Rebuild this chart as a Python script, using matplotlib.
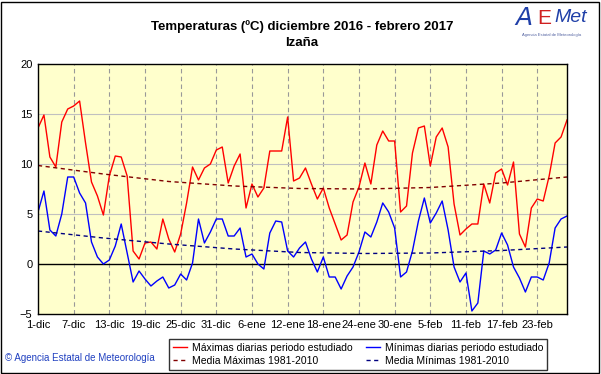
import numpy as np
import matplotlib
matplotlib.use('Agg')
import matplotlib.pyplot as plt
from matplotlib.patches import Rectangle

plt.rcParams['font.family'] = ['Liberation Sans', 'DejaVu Sans']
plt.rcParams['hatch.color'] = 'white'
plt.rcParams['hatch.linewidth'] = 0.6

# daily values, 1 dic 2016 .. 28 feb 2017 (90 days)
tmax = [13.6, 14.9, 10.7, 9.7, 14.2, 15.5, 15.8, 16.3, 12.1, 8.2,
        6.8, 4.9, 8.8, 10.8, 10.7, 8.8, 1.3, 0.5, 2.1, 2.2,
        1.5, 4.5, 2.5, 1.2, 3.0, 6.1, 9.7, 8.4, 9.6, 10.0,
        11.4, 11.7, 8.1, 9.8, 11.0, 5.6, 8.0, 6.7, 7.6, 11.3,
        11.3, 11.3, 14.7, 8.3, 8.6, 9.6, 8.0, 6.5, 7.6, 5.6,
        4.0, 2.4, 2.9, 6.2, 7.7, 10.1, 8.0, 11.9, 13.3, 12.3,
        12.3, 5.2, 5.8, 11.1, 13.6, 13.8, 9.8, 12.7, 13.6, 11.7,
        6.0, 2.9, 3.5, 4.0, 4.0, 8.0, 6.1, 9.1, 9.5, 7.9,
        10.2, 3.0, 1.7, 5.6, 6.5, 6.3, 8.8, 12.1, 12.7, 14.4]

tmin = [5.2, 7.3, 3.4, 2.8, 5.0, 8.7, 8.7, 7.1, 6.1, 2.2,
        0.7, 0.0, 0.4, 1.8, 4.0, 1.1, -1.8, -0.7, -1.5, -2.2,
        -1.7, -1.3, -2.4, -2.1, -1.0, -1.6, 0.1, 4.5, 2.1, 3.2,
        4.5, 4.5, 2.8, 2.8, 3.6, 0.7, 1.0, 0.0, -0.5, 3.1,
        4.3, 4.2, 1.3, 0.7, 1.6, 2.2, 0.5, -0.8, 0.7, -1.3,
        -1.3, -2.5, -1.2, -0.3, 1.2, 3.2, 2.7, 4.2, 6.1, 5.2,
        3.6, -1.3, -0.8, 1.3, 4.3, 6.6, 4.1, 5.1, 6.3, 3.4,
        -0.3, -1.8, -0.9, -4.7, -3.9, 1.3, 1.0, 1.4, 3.1, 1.9,
        -0.3, -1.4, -2.8, -1.3, -1.3, -1.6, 0.1, 3.6, 4.5, 4.8]

# 1981-2010 normals read at a few days
clim_days = [0, 11, 22, 33, 44, 55, 66, 78, 89]
clim_max = [9.85, 9.0, 8.25, 7.8, 7.55, 7.5, 7.65, 8.1, 8.7]
clim_min = [3.3, 2.6, 2.0, 1.5, 1.15, 1.05, 1.1, 1.35, 1.7]

tick_days = list(range(0, 90, 6))
tick_labels = ['1-dic', '7-dic', '13-dic', '19-dic', '25-dic', '31-dic', '6-ene',
               '12-ene', '18-ene', '24-ene', '30-ene', '5-feb', '11-feb',
               '17-feb', '23-feb']

W, H = 601, 374
fig = plt.figure(figsize=(W / 100, H / 100), dpi=100)
fig.patch.set_facecolor('white')

ax = fig.add_axes([38 / W, 1 - 314 / H, (567 - 38) / W, (314 - 64) / H])
ax.set_facecolor('#FFFFCC')
ax.patch.set_hatch('...')

days = np.arange(len(tmax))
l1, = ax.plot(days, tmax, color='#FF0000', lw=1.0, label='Máximas diarias periodo estudiado')
l2, = ax.plot(days, tmin, color='#0000FF', lw=1.0, label='Mínimas diarias periodo estudiado')
l3, = ax.plot(clim_days, clim_max, color='#800000', lw=1.0, ls=(0, (3, 2.5)),
              label='Media Máximas 1981-2010')
l4, = ax.plot(clim_days, clim_min, color='#000080', lw=1.0, ls=(0, (3, 2.5)),
              label='Media Mínimas 1981-2010')
ax.axhline(0, color='black', lw=1.0, zorder=1.5)

ax.set_xlim(0, 89)
ax.set_ylim(-5, 20)
ax.set_yticks([-5, 0, 5, 10, 15, 20])
ax.set_xticks(tick_days)
ax.set_xticklabels(tick_labels)
ax.tick_params(length=0, labelsize=8, pad=4)
for d in tick_days[1:]:
    ax.axvline(d, color='#999999', lw=0.8, ls=(0, (4, 3)), zorder=0.5)
for v in [5, 10, 15]:
    ax.axhline(v, color='#C0C0C0', lw=0.8, zorder=0.5)
for s in ax.spines.values():
    s.set_color('black')
    s.set_linewidth(1.0)

fig.text(302 / W, 1 - 27 / H, 'Temperaturas (ºC) diciembre 2016 - febrero 2017',
         ha='center', va='center', fontsize=9.5, fontweight='bold')
fig.text(302 / W, 1 - 43 / H, 'Izaña', ha='center', va='center',
         fontsize=9.5, fontweight='bold')

# logo
fig.text(524 / W, 1 - 18 / H, 'A', color='#1F3FA8', fontsize=18, style='italic',
         ha='center', va='center', family='DejaVu Sans')
fig.text(544 / W, 1 - 19 / H, 'E', color='#D02020', fontsize=15,
         ha='center', va='center')
fig.text(571 / W, 1 - 18 / H, 'Met', color='#1F3FA8', fontsize=14, style='italic',
         ha='center', va='center')
fig.text(552 / W, 1 - 35 / H, 'Agencia Estatal de Meteorología', color='#5060A0',
         fontsize=3, ha='center', va='center')

fig.text(5 / W, 1 - 358 / H, '© Agencia Estatal de Meteorología', color='#2040C0',
         fontsize=7, ha='left', va='center')

leg = fig.legend(handles=[l1, l3, l2, l4], ncol=2, loc='upper left',
                 bbox_to_anchor=(164 / W, 1 - 334 / H), fontsize=7.5,
                 frameon=True, fancybox=False, borderpad=0.35, handlelength=1.4,
                 handletextpad=0.4, columnspacing=1.3, labelspacing=0.3)
leg.get_frame().set_edgecolor('black')
leg.get_frame().set_linewidth(1.0)

fig.patches.append(Rectangle((1 / W, 1 / H), (W - 3) / W, (H - 3) / H,
                             transform=fig.transFigure, fill=False,
                             edgecolor='black', lw=1.0))

fig.savefig('out.png', dpi=100)
